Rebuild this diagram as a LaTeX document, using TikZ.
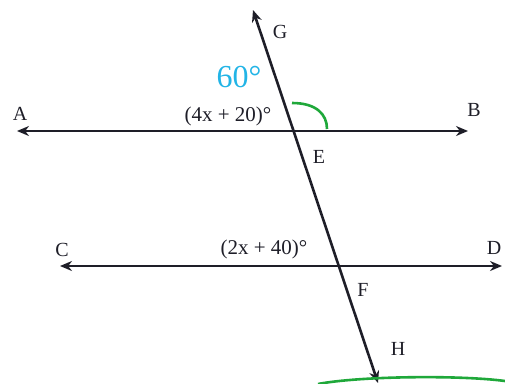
\documentclass[tikz,border=0pt]{standalone}
\usepackage{fontspec}
\setmainfont{Liberation Serif}
\usetikzlibrary{arrows.meta, positioning, calc}
\definecolor{inkline}{HTML}{1E1E28}
\definecolor{markgreen}{HTML}{1FA83A}
\definecolor{markblue}{HTML}{22B4E6}

\begin{document}
\begin{tikzpicture}[
    x=1pt, y=-1pt,
    lbl/.style={font=\fontsize{20}{24}\selectfont, text=inkline, inner sep=0pt},
    anglbl/.style={font=\fontsize{21}{24}\selectfont, text=inkline, inner sep=0pt, anchor=base},
    ln/.style={{Stealth[length=12pt,width=10pt]}-{Stealth[length=12pt,width=10pt]}, line width=2.6pt, color=inkline},
    hand/.style={line width=2.6pt, color=markgreen},
]
    \useasboundingbox (0,0) rectangle (505,383);
    % end points of the lines
    \coordinate (a) at (17,131);
    \coordinate (b) at (468,131);
    \coordinate (c) at (60,266);
    \coordinate (d) at (502,266);
    \coordinate (g) at (253,10);
    \coordinate (h) at (378,383);
    \draw[ln] (a) -- (b);
    \draw[ln] (c) -- (d);
    \draw[ln] (h) -- (g);
    % point labels
    \node[lbl] (A) at (20,114) {A};
    \node[lbl] (B) at (474,110) {B};
    \node[lbl] (C) at (62,250) {C};
    \node[lbl] (D) at (494,248) {D};
    \node[lbl] (G) at (280,32) {G};
    \node[lbl] (E) at (319,157) {E};
    \node[lbl] (F) at (363,290) {F};
    \node[lbl] (H) at (398,349) {H};
    % angle expressions
    \node[anglbl] (upper) at (228,121) {(4x + 20)°};
    \node[anglbl] (lower) at (264,254) {(2x + 40)°};
    % handwritten marks
    \node[font=\fontsize{32}{36}\selectfont, text=markblue, inner sep=0pt] (sixty) at (239,77) {60°};
    \coordinate (arcstart) at (292,103);
    \coordinate (arcend) at (327,129);
    \draw[hand] (arcstart) .. controls (316,103) and (327,114) .. (arcend);
    \coordinate (bowl) at (318,384);
    \coordinate (bowr) at (505,381);
    \draw[hand] (bowl) .. controls (360,376) and (460,375) .. (bowr);
\end{tikzpicture}
\end{document}
